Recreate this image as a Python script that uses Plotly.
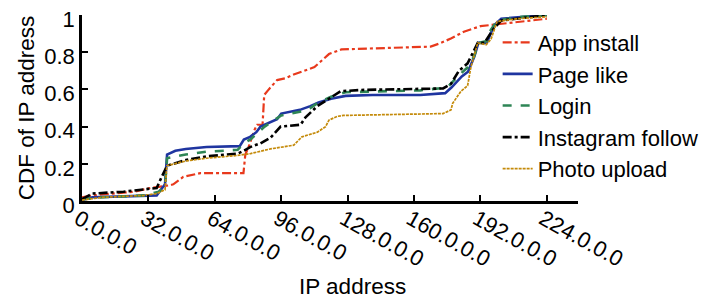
import plotly.graph_objects as go

tick_vals = [0, 32, 64, 96, 128, 160, 192, 224]
tick_text = ["0.0.0.0", "32.0.0.0", "64.0.0.0", "96.0.0.0", "128.0.0.0", "160.0.0.0", "192.0.0.0", "224.0.0.0"]
y_ticks = [0, 0.2, 0.4, 0.6, 0.8, 1]
y_text = ["0", "0.2", "0.4", "0.6", "0.8", "1"]

app_x = [0, 5, 15, 25, 33, 37, 40, 42.5, 44, 48.8, 57, 70, 77.8, 78.7, 80.6, 83, 84.4, 87, 87.8, 90, 94, 98, 102, 107, 112, 115, 119, 125, 140, 155, 168, 173, 178, 184, 192, 200, 215, 224]
app_y = [0.02, 0.03, 0.04, 0.05, 0.07, 0.075, 0.08, 0.085, 0.09, 0.13, 0.15, 0.15, 0.15, 0.25, 0.30, 0.38, 0.41, 0.41, 0.57, 0.60, 0.65, 0.66, 0.68, 0.70, 0.72, 0.75, 0.79, 0.815, 0.82, 0.825, 0.83, 0.85, 0.875, 0.91, 0.94, 0.95, 0.97, 0.98]

page_x = [0, 5, 20, 36, 38, 40, 41, 45, 50, 60, 76, 78, 81, 84, 86, 90, 94, 96, 105, 110, 114, 120, 127, 140, 163, 175, 178, 183, 186, 189, 191, 195, 197, 198.6, 202, 215, 224]
page_y = [0.005, 0.02, 0.025, 0.03, 0.06, 0.09, 0.25, 0.27, 0.28, 0.29, 0.295, 0.33, 0.345, 0.37, 0.40, 0.42, 0.44, 0.47, 0.49, 0.51, 0.53, 0.55, 0.565, 0.57, 0.57, 0.58, 0.61, 0.67, 0.695, 0.775, 0.85, 0.85, 0.90, 0.945, 0.98, 0.99, 1.0]

login_x = [0, 10, 30, 37, 40, 41, 50, 60, 75, 78, 81, 84, 88, 92, 96, 105, 110, 114, 120, 127, 140, 163, 176, 182, 186, 189, 191, 195, 197, 200, 212, 224]
login_y = [0.01, 0.02, 0.03, 0.05, 0.08, 0.23, 0.25, 0.265, 0.275, 0.31, 0.33, 0.36, 0.40, 0.43, 0.46, 0.48, 0.50, 0.53, 0.56, 0.585, 0.59, 0.595, 0.61, 0.68, 0.72, 0.78, 0.85, 0.86, 0.92, 0.97, 0.99, 1.0]

insta_x = [0, 5, 20, 30, 36, 38, 41, 50, 60, 75, 78, 81, 86, 90.8, 95.7, 105.3, 107.7, 113.4, 119, 124.6, 134, 174, 177.8, 181.6, 185.8, 190.7, 193.9, 198.6, 202, 212, 224]
insta_y = [0.01, 0.04, 0.05, 0.06, 0.07, 0.12, 0.19, 0.22, 0.24, 0.255, 0.27, 0.29, 0.31, 0.34, 0.40, 0.41, 0.45, 0.51, 0.55, 0.59, 0.597, 0.605, 0.63, 0.70, 0.74, 0.85, 0.85, 0.93, 0.97, 0.985, 1.0]

photo_x = [0, 10, 30, 36, 40, 40.9, 50, 60, 75, 81.2, 90.8, 102, 106, 113.4, 117.4, 119, 123, 126, 174, 177.8, 178.6, 182.6, 185.8, 187.4, 190.7, 194.7, 197.1, 200, 210, 224]
photo_y = [0.005, 0.02, 0.03, 0.04, 0.06, 0.19, 0.215, 0.23, 0.245, 0.255, 0.28, 0.30, 0.345, 0.37, 0.40, 0.435, 0.455, 0.46, 0.47, 0.49, 0.525, 0.59, 0.62, 0.72, 0.85, 0.84, 0.87, 0.965, 0.98, 0.99]

FONT = "Liberation Sans, Arial, Helvetica, sans-serif"

fig = go.Figure()
fig.add_trace(go.Scatter(x=app_x, y=app_y, mode="lines", name="App install",
                         line=dict(color="#e8391c", width=2.2, dash="dashdot")))
fig.add_trace(go.Scatter(x=page_x, y=page_y, mode="lines", name="Page like",
                         line=dict(color="#1f35a0", width=2.6)))
fig.add_trace(go.Scatter(x=login_x, y=login_y, mode="lines", name="Login",
                         line=dict(color="#2e8555", width=2.6, dash="dash")))
fig.add_trace(go.Scatter(x=insta_x, y=insta_y, mode="lines", name="Instagram follow",
                         line=dict(color="#000000", width=2.6, dash="dashdot")))
fig.add_trace(go.Scatter(x=photo_x, y=photo_y, mode="lines", name="Photo upload",
                         line=dict(color="#c48a0a", width=1.7, dash="3px,1px")))

# page body has an 8px margin, so the figure is 715x291 placed at (8, 8)
fig.update_layout(
    width=715, height=291,
    margin=dict(l=74, r=145, t=7, b=98),
    paper_bgcolor="white", plot_bgcolor="white",
    font=dict(family=FONT, size=22, color="black"),
    showlegend=True,
    legend=dict(x=0.838, xanchor="left", y=0.965, yanchor="top",
                bgcolor="rgba(0,0,0,0)", font=dict(size=22), tracegroupgap=0,
                maxheight=400),
    xaxis=dict(range=[0, 239], tickvals=tick_vals, ticktext=tick_text, tickangle=29,
               showline=True, linecolor="black", linewidth=2.5, ticks="inside",
               ticklen=6, tickwidth=2, tickcolor="black", showgrid=False, zeroline=False,
               automargin=False, ticklabeloverflow="allow",
               ticklabelstandoff=-6, ticklabelshift=-4,
               tickfont=dict(size=22)),
    yaxis=dict(range=[0, 1], tickvals=y_ticks, ticktext=y_text,
               showline=True, linecolor="black", linewidth=2.5, ticks="inside",
               ticklen=6, tickwidth=2, tickcolor="black", showgrid=False, zeroline=False,
               automargin=False, ticklabeloverflow="allow", ticklabelshift=4,
               title=dict(text="CDF of IP address", standoff=4, font=dict(size=22.5)),
               tickfont=dict(size=22)),
    annotations=[dict(text="IP address", xref="paper", yref="paper", x=0.546, y=-0.462,
                      xanchor="center", yanchor="middle", showarrow=False,
                      font=dict(size=22.5, family=FONT, color="black"))],
)

fig.write_html("out.html")
